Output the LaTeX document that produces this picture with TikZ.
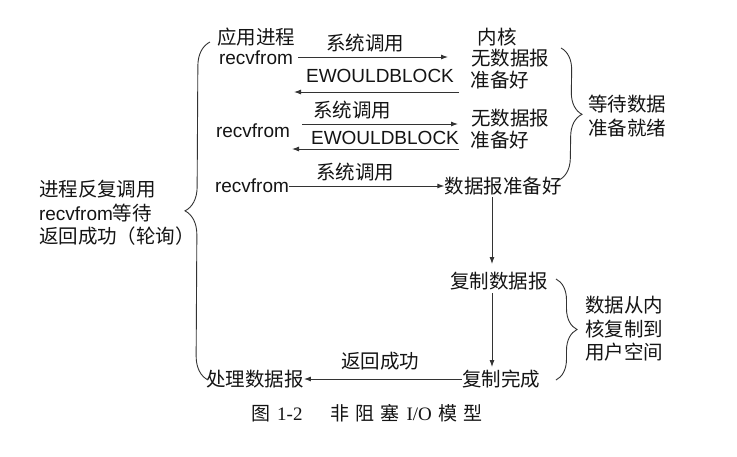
\documentclass[tikz,border=0pt]{standalone}
\usepackage{fontspec}
\setmainfont{Liberation Sans}
\newfontfamily\cjk{Noto Sans CJK SC}
\newfontfamily\capserif{Liberation Serif}
\usetikzlibrary{arrows.meta,decorations.pathreplacing}
\definecolor{ink}{HTML}{141414}
\definecolor{lineink}{HTML}{333333}
\tikzset{
  lbl/.style={inner sep=0pt, text=ink, font=\fontsize{19}{23.5}\selectfont},
  zh/.style={lbl, font=\fontsize{19.5}{23.5}\selectfont\cjk},
  arr/.style={draw=lineink, line width=0.9pt, -{Latex[length=7pt,width=5pt]}},
  brc/.style={draw=lineink, line width=0.9pt, decorate, decoration={brace, amplitude=#1}}
}
\begin{document}
\begin{tikzpicture}[x=1pt,y=-1pt]
\useasboundingbox[fill=white] (0,0) rectangle (737,456);

% left column
\node[zh] (app) at (256,37) {应用进程};
\node[lbl] (r1) at (256,58) {recvfrom};
\node[lbl] (r2) at (253,131) {recvfrom};
\node[lbl] (r3) at (252,186) {recvfrom};
\node[zh] (proc) at (255,379) {处理数据报};

% kernel column
\node[zh] (k0) at (497,37) {内核};
\node[zh] (k1) at (510,58) {无数据报};
\node[zh] (k1b) at (500,80) {准备好};
\node[zh] (k2) at (510,118) {无数据报};
\node[zh] (k2b) at (500,140) {准备好};
\node[zh] (k3) at (503,186) {数据报准备好};
\node[zh] (cp) at (499,281) {复制数据报};
\node[zh] (done) at (501,379) {复制完成};

% arrow labels
\node[zh] (c1) at (365,43) {系统调用};
\node[lbl] (e1) at (380,76) {EWOULDBLOCK};
\node[zh] (c2) at (352,110) {系统调用};
\node[lbl] (e2) at (385,138) {EWOULDBLOCK};
\node[zh] (c3) at (355,172) {系统调用};
\node[zh] (ret) at (380,361) {返回成功};

% side labels
\node[zh, align=left] (wait) at (627,116) {等待数据\\准备就绪};
\node[zh, align=left] (copy) at (624,329) {数据从内\\核复制到\\用户空间};
\node[lbl, align=left, font=\fontsize{19}{23.5}\selectfont] (poll) at (117,213)
  {{\cjk\fontsize{19.5}{23.5}\selectfont 进程反复调用}\\recvfrom{\cjk\fontsize{19.5}{23.5}\selectfont 等待}\\{\cjk\fontsize{19.5}{23.5}\selectfont 返回成功（轮询）}};

% caption
\node[lbl, font=\fontsize{19}{22}\selectfont\cjk] (cap) at (367,413)
  {图\hspace{7pt}{\capserif 1-2}\hspace{28pt}非\hspace{6pt}阻\hspace{6pt}塞\hspace{7pt}{\capserif I/O}\hspace{7pt}模\hspace{6pt}型};

% arrow end coordinates
\coordinate (a1s) at (298,57);
\coordinate (a1e) at (448,57);
\coordinate (b1s) at (459,92);
\coordinate (b1e) at (294,92);
\coordinate (a2s) at (302,124);
\coordinate (a2e) at (458,124);
\coordinate (b2s) at (459,149);
\coordinate (b2e) at (292,149);
\coordinate (v1s) at (492,197);
\coordinate (v1e) at (492,264);
\coordinate (v2s) at (492,293);
\coordinate (v2e) at (492,367);

\draw[arr] (a1s) -- (a1e);
\draw[arr] (b1s) -- (b1e);
\draw[arr] (a2s) -- (a2e);
\draw[arr] (b2s) -- (b2e);
\draw[arr] (r3.east) -- (k3.west);
\draw[arr] (v1s) -- (v1e);
\draw[arr] (v2s) -- (v2e);
\draw[arr] (done.west) -- (proc.east);

% braces
\coordinate (lb1) at (208,380);
\coordinate (lb2) at (210,42);
\draw[brc=24pt] (lb1) -- (lb2);
\coordinate (rb1) at (561,48);
\coordinate (rb2) at (559,180);
\draw[brc=22pt] (rb1) -- (rb2);
\coordinate (rc1) at (556,279);
\coordinate (rc2) at (556,380);
\draw[brc=21pt] (rc1) -- (rc2);
\end{tikzpicture}
\end{document}
